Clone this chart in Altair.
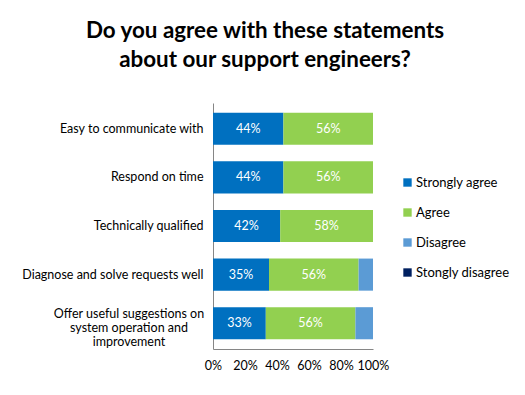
import altair as alt
import pandas as pd

statements = [
    "Easy to communicate with",
    "Respond on time",
    "Technically qualified",
    "Diagnose and solve requests well",
    "Offer useful suggestions on|system operation and|improvement",
]
responses = ["Strongly agree", "Agree", "Disagree", "Stongly disagree"]
colors = ["#0070C0", "#92D050", "#5B9BD5", "#002060"]

strongly_agree = [0.44, 0.44, 0.42, 0.35, 0.33]
agree = [0.56, 0.56, 0.58, 0.56, 0.56]
disagree = [0.00, 0.00, 0.00, 0.09, 0.11]
strongly_disagree = [0.0, 0.0, 0.0, 0.0, 0.0]

x_ticks = [0, 0.2, 0.4, 0.6, 0.8, 1.0]

rows = []
for series_idx, (resp, vals) in enumerate(zip(responses, [strongly_agree, agree, disagree, strongly_disagree])):
    for st, v in zip(statements, vals):
        rows.append({"statement": st, "response": resp, "value": v, "idx": series_idx})
df = pd.DataFrame(rows)

multi_df = pd.DataFrame({"statement": [s for s in statements if "|" in s]})

FONT = "Lato"
LBL = 12.5

y_scale = alt.Scale(domain=statements, paddingInner=0.34, paddingOuter=0.2)
x_scale = alt.Scale(domain=[0, 1])

y_axis = alt.Axis(
    labelExpr="indexof(datum.label, '|') >= 0 ? '' : datum.label",
    labelFontSize=LBL,
    labelColor="#000000",
    labelFont=FONT,
    labelPadding=10,
    ticks=False,
    domainColor="#868686",
    labelLimit=300,
)
x_axis = alt.Axis(
    values=x_ticks,
    format=".0%",
    grid=False,
    ticks=False,
    labelFontSize=LBL,
    labelColor="#000000",
    labelFont=FONT,
    labelPadding=10,
    domainColor="#868686",
    labelFlush=False,
    labelOverlap=False,
)

base = alt.Chart(df)

bars = base.mark_bar().encode(
    y=alt.Y("statement:N", sort=statements, title=None, scale=y_scale, axis=y_axis),
    x=alt.X("value:Q", stack="zero", title=None, scale=x_scale, axis=x_axis),
    color=alt.Color(
        "response:N",
        scale=alt.Scale(domain=responses, range=colors),
        legend=alt.Legend(
            title=None,
            orient="none",
            legendX=188,
            legendY=73,
            symbolType="square",
            symbolSize=70,
            symbolStrokeWidth=0,
            labelFontSize=13,
            labelFont=FONT,
            labelColor="#000000",
            rowPadding=16,
            labelOffset=2,
        ),
    ),
    order=alt.Order("idx:Q"),
)

labels = (
    base.transform_filter("datum.value >= 0.2")
    .transform_stack(
        stack="value",
        groupby=["statement"],
        as_=["x0", "x1"],
        sort=[alt.SortField("idx", order="ascending")],
    )
    .transform_calculate(mid="(datum.x0 + datum.x1) / 2")
    .mark_text(color="white", fontSize=LBL, font=FONT)
    .encode(
        y=alt.Y("statement:N", sort=statements, title=None, scale=y_scale, axis=y_axis),
        x=alt.X("mid:Q", title=None, scale=x_scale, axis=x_axis),
        text=alt.Text("value:Q", format=".0%"),
    )
)

multi_label = (
    alt.Chart(multi_df)
    .mark_text(
        align="center",
        baseline="middle",
        lineBreak="|",
        lineHeight=14,
        fontSize=LBL,
        font=FONT,
        color="#000000",
        dy=-9,
    )
    .encode(
        y=alt.Y("statement:N", sort=statements, title=None, scale=y_scale, axis=y_axis),
        x=alt.value(-84),
        text="statement:N",
    )
)

chart = (
    alt.layer(bars, labels, multi_label)
    .properties(
        width=160,
        height=246,
        autosize=alt.AutoSizeParams(type="none"),
        padding={"left": 205, "top": 95, "right": 144, "bottom": 38},
        title=alt.Title(
            ["Do you agree with these statements", "about our support engineers?"],
            fontSize=22.4,
            font=FONT,
            fontWeight="bold",
            color="#000000",
            anchor="middle",
            dx=-28,
            offset=32,
            lineHeight=29,
        ),
    )
    .configure_view(stroke=None)
)

chart.save("out.html", embed_options={"renderer": "svg", "actions": False})
